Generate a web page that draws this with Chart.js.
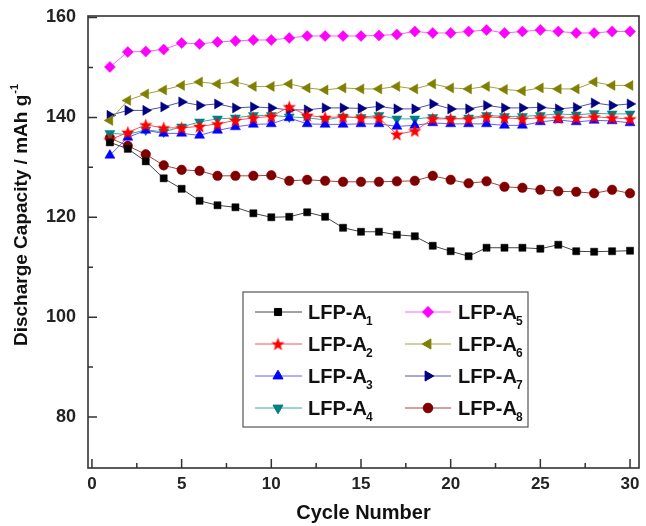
<!DOCTYPE html>
<html><head><meta charset="utf-8">
<script src="https://cdn.jsdelivr.net/npm/chart.js@4.4.1/dist/chart.umd.min.js"></script>
<style>html,body{margin:0;padding:0;background:#fff}#wrap{width:646px;height:526px}</style>
</head><body><div id="wrap"><canvas id="c" width="646" height="526"></canvas></div>
<script>
// ---- data ----
const cycles = [1,2,3,4,5,6,7,8,9,10,11,12,13,14,15,16,17,18,19,20,21,22,23,24,25,26,27,28,29,30];
const A1 = [135.0,133.7,131.2,127.8,125.7,123.3,122.4,122.0,120.8,120.0,120.1,121.0,120.1,117.9,117.1,117.1,116.5,116.2,114.3,113.2,112.2,113.9,113.9,113.9,113.7,114.5,113.2,113.1,113.2,113.3];
const A2 = [135.5,137.0,138.5,137.9,137.9,138.2,138.7,139.4,139.9,140.2,142.1,140.4,140.0,140.1,139.9,139.9,136.6,137.3,139.7,139.7,139.7,140.1,139.9,139.7,139.9,139.9,139.9,140.1,139.9,139.7];
const A3 = [132.4,136.0,137.4,136.8,136.8,136.4,137.4,138.1,138.6,138.7,139.9,138.7,138.6,138.6,138.7,138.7,138.2,138.4,138.9,138.7,138.7,138.7,138.4,138.4,139.1,139.5,139.1,139.4,139.3,138.9];
const A4 = [136.8,136.6,137.5,137.1,138.1,139.1,139.7,139.9,140.4,140.4,140.1,139.9,139.5,140.1,140.0,140.4,139.7,139.7,140.0,139.7,139.9,140.4,140.2,140.2,140.4,140.7,140.5,140.8,140.7,140.7];
const A5 = [150.1,153.1,153.2,153.6,154.9,154.7,155.1,155.3,155.5,155.5,155.9,156.3,156.3,156.3,156.3,156.4,156.6,157.2,156.9,156.9,157.2,157.5,156.9,157.2,157.5,157.2,156.9,156.9,157.2,157.2];
const A6 = [139.4,143.4,144.7,145.5,146.4,147.1,146.7,147.1,146.2,146.2,146.7,145.9,145.5,145.9,145.7,145.7,146.2,145.7,146.7,145.9,145.7,146.2,145.6,145.3,145.9,145.7,145.7,147.1,146.4,146.4];
const A7 = [140.4,141.4,141.4,142.1,143.1,142.4,142.7,141.9,142.1,141.9,141.5,141.5,141.9,141.9,141.8,142.2,141.7,141.7,142.7,141.7,141.7,142.4,141.9,141.9,142.0,141.7,142.0,142.9,142.4,142.7];
const A8 = [135.9,134.3,132.6,130.4,129.5,129.3,128.3,128.3,128.3,128.4,127.3,127.5,127.3,127.1,127.1,127.1,127.2,127.3,128.3,127.5,126.8,127.2,126.1,125.9,125.5,125.2,125.1,124.8,125.5,124.8];
const labelBase = 'LFP-A';
const labelSubs = ['1','2','3','4','5','6','7','8'];
const xTicks = [0,5,10,15,20,25,30];
const xMinorTicks = [2.5,7.5,12.5,17.5,22.5,27.5];
const yTicks = [80,100,120,140,160];
const yMinorTicks = [90,110,130,150];
const xTitle = 'Cycle Number';
const yTitleMain = 'Discharge Capacity / mAh g';
const yTitleSup = '-1';

// ---- styles ----
const FONT = "'Liberation Sans', Arial, sans-serif";
function makeStar(color){
  const c = document.createElement('canvas'); c.width = 15; c.height = 15;
  const g = c.getContext('2d'); g.fillStyle = color; g.beginPath();
  for (let i=0;i<10;i++){
    const r = i%2===0 ? 7 : 2.9;
    const a = -Math.PI/2 + i*Math.PI/5;
    const px = 7.5 + r*Math.cos(a), py = 8 + r*Math.sin(a);
    i===0 ? g.moveTo(px,py) : g.lineTo(px,py);
  }
  g.closePath(); g.fill(); return c;
}
const styles = [
  {color:'#000000', line:'#444444', ps:'rect', rot:0, r:5},
  {color:'#ff0000', line:'#ff5050', ps:makeStar('#ff0000'), rot:0, r:6},
  {color:'#0000ff', line:'#6060ff', ps:'triangle', rot:0, r:5.8},
  {color:'#008080', line:'#40a8a8', ps:'triangle', rot:180, r:5.8},
  {color:'#ff00ff', line:'#ff60ff', ps:'rectRot', rot:0, r:5.5},
  {color:'#808000', line:'#a0a040', ps:'triangle', rot:270, r:5.8},
  {color:'#000080', line:'#5050a8', ps:'triangle', rot:90, r:5.8},
  {color:'#800000', line:'#a84040', ps:'circle', rot:0, r:4.8}
];
const series = [A1,A2,A3,A4,A5,A6,A7,A8];
const subChars = {'1':'₁','2':'₂','3':'₃','4':'₄','5':'₅','6':'₆','7':'₇','8':'₈'};
const datasets = series.map((vals,i)=>({
  label: labelBase + subChars[labelSubs[i]],
  data: cycles.map((c,j)=>({x:c, y:vals[j]})),
  borderColor: styles[i].line, borderWidth: 1,
  backgroundColor: styles[i].color,
  pointStyle: styles[i].ps, pointRotation: styles[i].rot, pointRadius: styles[i].r,
  pointBackgroundColor: styles[i].color, pointBorderColor: styles[i].color, pointBorderWidth: 0.5,
  tension: 0
}));

const legendPlugin = {
  id:'boxLegend',
  afterDatasetsDraw(chart){
    const ctx = chart.ctx;
    ctx.save();
    ctx.fillStyle = '#fff'; ctx.fillRect(243, 292, 285, 135);
    ctx.strokeStyle = '#555'; ctx.lineWidth = 1.2; ctx.strokeRect(243, 292, 285, 135);
    const rowsY = [312, 344, 376, 408];
    const cols = [{l0:255,l1:302,m:278,t:308},{l0:405,l1:451,m:428,t:458}];
    for (let i=0;i<8;i++){
      const col = cols[Math.floor(i/4)], y = rowsY[i%4], st = styles[i];
      ctx.strokeStyle = st.line; ctx.lineWidth = 1;
      ctx.beginPath(); ctx.moveTo(col.l0, y); ctx.lineTo(col.l1, y); ctx.stroke();
      ctx.fillStyle = st.color; ctx.strokeStyle = st.color;
      Chart.helpers.drawPoint(ctx, {pointStyle: st.ps, rotation: st.rot, radius: st.r, borderWidth: 0.5}, col.m, y);
      ctx.fillStyle = '#111';
      ctx.font = 'bold 20px ' + FONT; ctx.textBaseline = 'alphabetic'; ctx.textAlign = 'left';
      ctx.fillText(labelBase, col.t, y + 7);
      const w = ctx.measureText(labelBase).width;
      ctx.font = 'bold 12px ' + FONT;
      ctx.fillText(labelSubs[i], col.t + w - 1, y + 13);
    }
    ctx.restore();
  }
};

const framePlugin = {
  id:'frame',
  afterDraw(chart){
    const {ctx, chartArea:a, scales:{x,y}} = chart;
    ctx.save();
    ctx.strokeStyle = '#333'; ctx.lineWidth = 1.6;
    ctx.strokeRect(a.left, a.top, a.right-a.left, a.bottom-a.top);
    ctx.lineWidth = 1.5; ctx.beginPath();
    xTicks.forEach(v=>{const p=x.getPixelForValue(v); ctx.moveTo(p,a.bottom); ctx.lineTo(p,a.bottom-9);});
    xMinorTicks.forEach(v=>{const p=x.getPixelForValue(v); ctx.moveTo(p,a.bottom); ctx.lineTo(p,a.bottom-5);});
    yTicks.forEach(v=>{const p=y.getPixelForValue(v); ctx.moveTo(a.left,p); ctx.lineTo(a.left+9,p);});
    yMinorTicks.forEach(v=>{const p=y.getPixelForValue(v); ctx.moveTo(a.left,p); ctx.lineTo(a.left+5,p);});
    ctx.stroke();
    // y title with superscript
    ctx.fillStyle = '#111';
    ctx.font = 'bold 19px ' + FONT;
    const wMain = ctx.measureText(yTitleMain).width;
    ctx.font = 'bold 11px ' + FONT;
    const wSup = ctx.measureText(yTitleSup).width;
    const total = wMain + wSup + 1;
    ctx.translate(27, 215 + total/2);
    ctx.rotate(-Math.PI/2);
    ctx.textAlign = 'left'; ctx.textBaseline = 'alphabetic';
    ctx.font = 'bold 19px ' + FONT;
    ctx.fillText(yTitleMain, 0, 0);
    ctx.font = 'bold 11px ' + FONT;
    ctx.fillText(yTitleSup, wMain + 1, -9);
    ctx.restore();
  }
};

new Chart(document.getElementById('c'), {
  type:'line',
  data:{datasets},
  plugins:[legendPlugin, framePlugin],
  options:{
    responsive:false, animation:false, devicePixelRatio:1,
    layout:{padding:{left:0,right:7,top:16,bottom:0}},
    plugins:{legend:{display:false}, tooltip:{enabled:false}},
    scales:{
      x:{type:'linear', min:-0.22, max:30.5,
        afterBuildTicks:s=>{s.ticks = xTicks.map(v=>({value:v}));},
        afterFit:s=>{s.height = 58; s.paddingLeft = 0; s.paddingRight = 0;},
        ticks:{font:{family:FONT,size:17,weight:'bold'}, color:'#222', padding:6, maxRotation:0},
        grid:{display:false, drawTicks:false}, border:{display:false},
        title:{display:true, text:xTitle, font:{family:FONT,size:20,weight:'bold'}, color:'#111', padding:{top:0,bottom:1}}
      },
      y:{type:'linear', min:69.8, max:160.3,
        afterBuildTicks:s=>{s.ticks = yTicks.map(v=>({value:v}));},
        afterFit:s=>{s.width = 88; s.paddingTop = 0; s.paddingBottom = 0;},
        ticks:{font:{family:FONT,size:18,weight:'bold'}, color:'#222', padding:12},
        grid:{display:false, drawTicks:false}, border:{display:false}
      }
    }
  }
});
</script></body></html>
